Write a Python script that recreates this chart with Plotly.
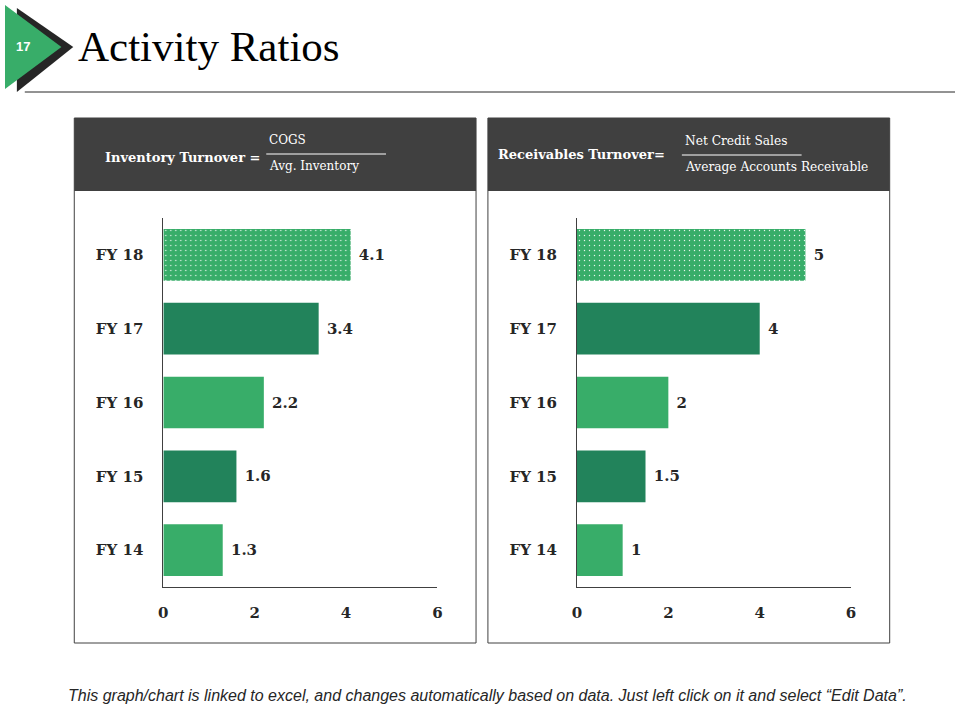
import plotly.graph_objects as go

categories = ["FY 14", "FY 15", "FY 16", "FY 17", "FY 18"]
inventory_turnover = [1.3, 1.6, 2.2, 3.4, 4.1]
receivables_turnover = [1, 1.5, 2, 4, 5]
x_ticks = [0, 2, 4, 6]

LIGHT = "#38AD69"
DARK = "#22835B"
bar_colors = [LIGHT, DARK, LIGHT, DARK, LIGHT]
dotted = [False, False, False, False, True]

W, H = 960, 720
def px(x):
    return x / W
def py(y):
    return 1 - y / H

SERIF = "DejaVu Serif"
labelfont = dict(family=SERIF, size=15, color="#262626", weight="bold")

fig = go.Figure()
for vals, xa, ya in [(inventory_turnover, "x", "y"), (receivables_turnover, "x2", "y2")]:
    plain = [i for i, d in enumerate(dotted) if not d]
    dots = [i for i, d in enumerate(dotted) if d]
    fig.add_trace(go.Bar(
        x=[vals[i] for i in plain], y=[categories[i] for i in plain], orientation="h",
        marker=dict(color=[bar_colors[i] for i in plain], line=dict(width=0)),
        text=[f"{vals[i]:g}" for i in plain], texttemplate=" %{text}",
        textposition="outside", textfont=labelfont, cliponaxis=False,
        xaxis=xa, yaxis=ya, showlegend=False, hoverinfo="skip",
    ))
    for i in dots:
        fig.add_trace(go.Bar(
            x=[vals[i]], y=[categories[i]], orientation="h",
            marker=dict(color=bar_colors[i], line=dict(width=0),
                        pattern=dict(shape=".", fgcolor="#FFFFFF", fgopacity=0.9,
                                     size=5, solidity=0.06, fillmode="overlay")),
            text=[f"{vals[i]:g}"], texttemplate=" %{text}",
            textposition="outside", textfont=labelfont, cliponaxis=False,
            xaxis=xa, yaxis=ya, showlegend=False, hoverinfo="skip",
        ))

axis_common = dict(showgrid=False, zeroline=False, showline=True, linecolor="#404040",
                   linewidth=1, ticks="", fixedrange=True)
ydom = [py(587), py(218)]
yaxis_common = dict(domain=ydom, type="category", categoryorder="array", categoryarray=categories,
                    range=[-0.5, 4.5], tickfont=labelfont, ticklabelstandoff=16, **axis_common)
fig.update_layout(
    width=W, height=H, margin=dict(l=0, r=0, t=0, b=0),
    paper_bgcolor="white", plot_bgcolor="white", bargap=0.3, barmode="overlay",
    xaxis=dict(domain=[px(160), px(437)], range=[0, 6], tickvals=x_ticks,
               tickfont=labelfont, ticklabelstandoff=12, anchor="y", **axis_common),
    yaxis=dict(anchor="x", **yaxis_common),
    xaxis2=dict(domain=[px(578), px(855)], range=[0, 6], tickvals=x_ticks,
                tickfont=labelfont, ticklabelstandoff=12, anchor="y2", **axis_common),
    yaxis2=dict(anchor="x2", **yaxis_common),
)

shapes = []
# badge
shapes.append(dict(type="path", xref="paper", yref="paper",
                   path=f"M {px(12)},{py(8)} L {px(69)},{py(47)} L {px(12)},{py(92)} Z",
                   fillcolor="#262626", line=dict(width=0), layer="below"))
shapes.append(dict(type="path", xref="paper", yref="paper",
                   path=f"M {px(0)},{py(5)} L {px(57)},{py(47)} L {px(0)},{py(89)} Z",
                   fillcolor=LIGHT, line=dict(width=0), layer="below"))
# title rule
shapes.append(dict(type="line", xref="paper", yref="paper", x0=px(20), x1=px(960),
                   y0=py(92), y1=py(92), line=dict(color="#262626", width=1)))
# panels
for x0, x1 in [(70, 476), (488, 894)]:
    shapes.append(dict(type="rect", xref="paper", yref="paper", x0=px(x0), x1=px(x1),
                       y0=py(643), y1=py(118), fillcolor="white",
                       line=dict(color="#404040", width=1), layer="below"))
    shapes.append(dict(type="rect", xref="paper", yref="paper", x0=px(x0), x1=px(x1),
                       y0=py(191), y1=py(118), fillcolor="#404040",
                       line=dict(width=0), layer="below"))
# fraction lines
shapes.append(dict(type="line", xref="paper", yref="paper", x0=px(264), x1=px(385),
                   y0=py(154), y1=py(154), line=dict(color="#FFFFFF", width=1)))
shapes.append(dict(type="line", xref="paper", yref="paper", x0=px(684), x1=px(805),
                   y0=py(155), y1=py(155), line=dict(color="#FFFFFF", width=1)))
fig.update_layout(shapes=shapes)

ann = []
def text(x, y, s, size, color="#FFFFFF", family=SERIF, bold=False, xanchor="left", italic=False):
    ann.append(dict(xref="paper", yref="paper", x=px(x), y=py(y), text=s, showarrow=False,
                    xanchor=xanchor, yanchor="middle",
                    font=dict(family=family, size=size, color=color,
                              weight="bold" if bold else "normal",
                              style="italic" if italic else "normal")))

text(18, 47, "17", 13, family="Liberation Sans", bold=True, xanchor="center")
text(72, 46, "Activity Ratios", 43, color="#000000", family="Liberation Serif")
text(99, 157, "Inventory Turnover =", 13, bold=True)
text(265, 140, "COGS", 12)
text(265, 166, "Avg. Inventory", 12)
text(496, 154, "Receivables Turnover=", 13, bold=True)
text(685, 141, "Net Credit Sales", 12.2)
text(685, 167, "Average Accounts Receivable", 12.2)
text(488, 695, "This graph/chart is linked to excel, and changes automatically based on data. Just left click on it and select \u201cEdit Data\u201d.",
     16, color="#262626", family="Liberation Sans Narrow, Liberation Sans", italic=True, xanchor="center")
fig.update_layout(annotations=ann)

fig.write_html("out.html", config={"displayModeBar": False},
               post_script="document.body.style.margin='0px';document.body.style.padding='0px';")
